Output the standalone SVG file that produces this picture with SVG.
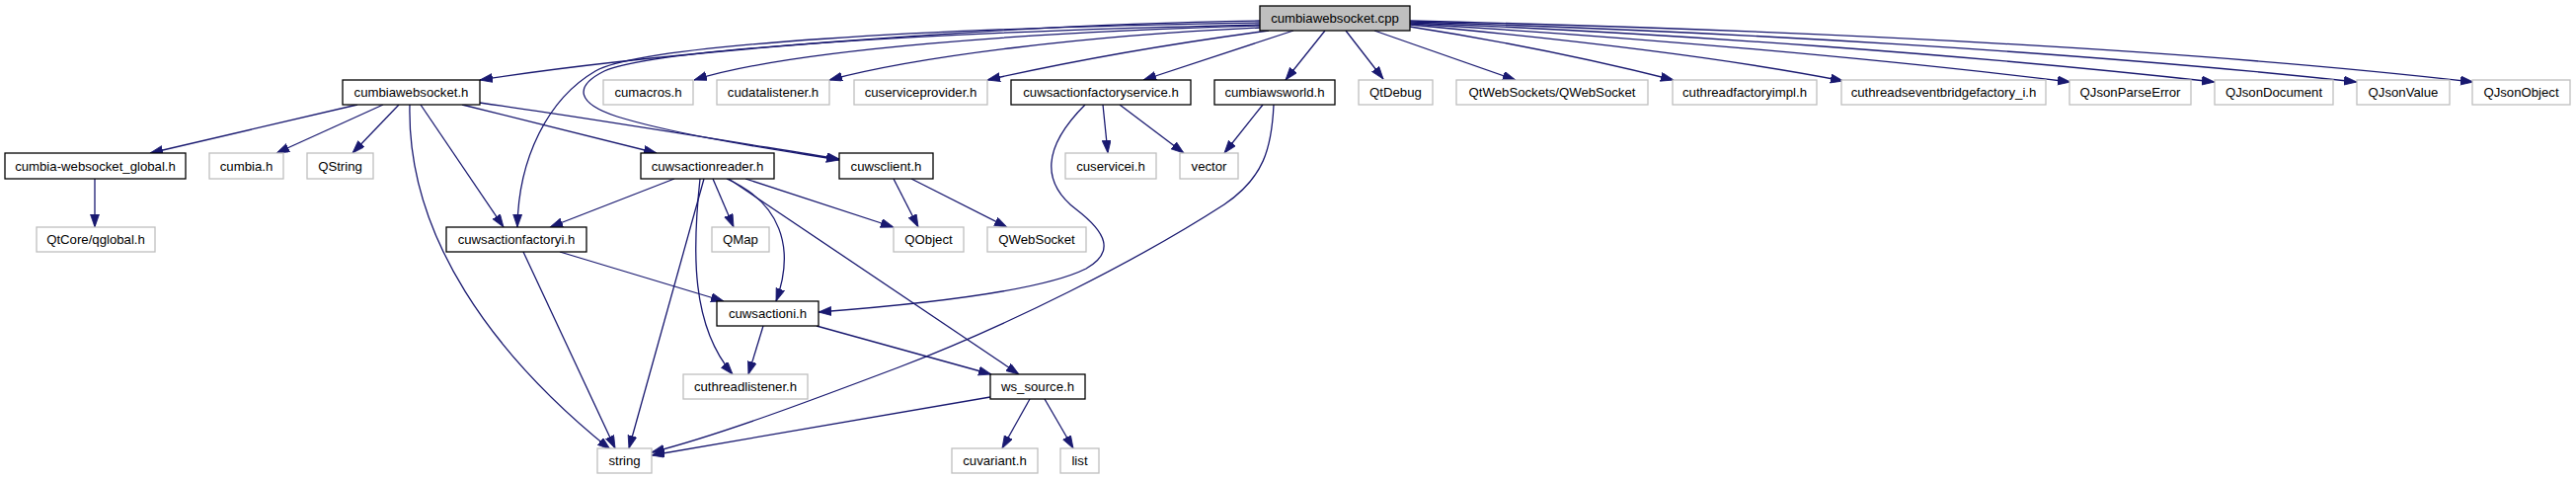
<svg xmlns="http://www.w3.org/2000/svg" width="2609" height="485" viewBox="0 0 2609 485">
<style>
.n rect{fill:#fff;stroke:#000;stroke-width:1.3}
.x rect{fill:#fff;stroke:#bfbfbf;stroke-width:1.3}
.r rect{fill:#bfbfbf;stroke:#000;stroke-width:1.3}
text{font-family:"Liberation Sans",Arial,Helvetica,sans-serif;font-size:13.2px;fill:#000;text-anchor:middle}
#edges path{fill:none;stroke:#191970;stroke-width:1.3;marker-end:url(#a)}
</style>
<defs>
<marker id="a" markerUnits="userSpaceOnUse" markerWidth="14" markerHeight="10" refX="13" refY="4.5" orient="auto" viewBox="0 0 14 10"><path d="M0,0 L13,4.5 L0,9 z" fill="#191970" stroke="#191970" stroke-width="0.8"/></marker>
</defs>
<rect width="2609" height="485" fill="#fff"/>
<g id="edges">
<path d="M1276,21 C1000,25 650,55 486,81"/>
<path d="M1276,23 C950,28 650,45 603,72 C555,100 525,160 524,230"/>
<path d="M1276,25 C950,32 660,50 612,72 C580,88 585,105 625,118 C690,138 790,152 850,162"/>
<path d="M1276,26 C1050,32 800,50 703,81"/>
<path d="M1276,28 C1100,36 930,57 840,81"/>
<path d="M1285,31 C1180,45 1080,63 1000,81"/>
<path d="M1310,31 L1158,81"/>
<path d="M1342,31 L1302,81"/>
<path d="M1363,31 L1401,80"/>
<path d="M1392,31 L1535,81"/>
<path d="M1428,27 C1530,43 1620,62 1695,81"/>
<path d="M1428,25 C1600,41 1760,61 1867,82"/>
<path d="M1428,24 C1650,37 1900,59 2097,83"/>
<path d="M1428,23 C1700,34 2000,56 2243,83"/>
<path d="M1428,22 C1750,32 2100,52 2387,83"/>
<path d="M1428,21 C1800,30 2200,48 2505,83"/>
<path d="M362,106 L152,155"/>
<path d="M388,106 L280,155"/>
<path d="M404,106 L357,155"/>
<path d="M415,106 C412,240 500,360 618,455"/>
<path d="M426,106 L510,230"/>
<path d="M468,106 L665,155"/>
<path d="M486,104 C600,120 750,145 850,161"/>
<path d="M96,181 L96,230"/>
<path d="M683,181 L557,230"/>
<path d="M713,181 L637,454"/>
<path d="M709,181 C701,255 700,330 742,379"/>
<path d="M722,181 L743,230"/>
<path d="M736,181 C790,205 806,250 786,305"/>
<path d="M738,181 L1032,379"/>
<path d="M755,181 L905,230"/>
<path d="M905,181 L930,230"/>
<path d="M923,181 L1020,230"/>
<path d="M1117,106 L1122,155"/>
<path d="M1134,106 L1199,155"/>
<path d="M1099,106 C1055,150 1055,185 1090,212 C1120,235 1130,255 1100,272 C1060,292 960,306 829,316"/>
<path d="M1279,106 L1240,155"/>
<path d="M1290,106 C1288,150 1280,180 1240,207 C1150,265 1020,330 910,372 C820,406 730,440 660,458"/>
<path d="M567,255 L733,305"/>
<path d="M530,255 L623,454"/>
<path d="M773,330 L758,379"/>
<path d="M827,330 L1004,379"/>
<path d="M1003,402 L660,461"/>
<path d="M1043,404 L1015,454"/>
<path d="M1058,404 L1087,454"/>
</g>
<g id="n_cpp" class="r"><rect x="1276" y="6" width="152" height="25"/><text x="1352" y="23.2">cumbiawebsocket.cpp</text></g>
<g id="n_cumbiawebsocket_h" class="n"><rect x="347" y="81" width="139" height="25"/><text x="416.5" y="98.2">cumbiawebsocket.h</text></g>
<g id="n_cumacros" class="x"><rect x="611" y="81" width="91" height="25"/><text x="656.5" y="98.2">cumacros.h</text></g>
<g id="n_cudatalistener" class="x"><rect x="726" y="81" width="114" height="25"/><text x="783" y="98.2">cudatalistener.h</text></g>
<g id="n_cuserviceprovider" class="x"><rect x="865" y="81" width="135" height="25"/><text x="932.5" y="98.2">cuserviceprovider.h</text></g>
<g id="n_cuwsactionfactoryservice" class="n"><rect x="1024" y="81" width="182" height="25"/><text x="1115" y="98.2">cuwsactionfactoryservice.h</text></g>
<g id="n_cumbiawsworld" class="n"><rect x="1230" y="81" width="122" height="25"/><text x="1291" y="98.2">cumbiawsworld.h</text></g>
<g id="n_qtdebug" class="x"><rect x="1376" y="81" width="75" height="25"/><text x="1413.5" y="98.2">QtDebug</text></g>
<g id="n_qtwebsockets" class="x"><rect x="1475" y="81" width="194" height="25"/><text x="1572" y="98.2">QtWebSockets/QWebSocket</text></g>
<g id="n_cuthreadfactoryimpl" class="x"><rect x="1694" y="81" width="146" height="25"/><text x="1767" y="98.2">cuthreadfactoryimpl.h</text></g>
<g id="n_cuthreadseventbridge" class="x"><rect x="1865" y="81" width="207" height="25"/><text x="1968.5" y="98.2">cuthreadseventbridgefactory_i.h</text></g>
<g id="n_qjsonparseerror" class="x"><rect x="2096" y="81" width="123" height="25"/><text x="2157.5" y="98.2">QJsonParseError</text></g>
<g id="n_qjsondocument" class="x"><rect x="2243" y="81" width="120" height="25"/><text x="2303" y="98.2">QJsonDocument</text></g>
<g id="n_qjsonvalue" class="x"><rect x="2387" y="81" width="94" height="25"/><text x="2434" y="98.2">QJsonValue</text></g>
<g id="n_qjsonobject" class="x"><rect x="2504" y="81" width="99" height="25"/><text x="2553.5" y="98.2">QJsonObject</text></g>
<g id="n_global" class="n"><rect x="5" y="155" width="183" height="26"/><text x="96.5" y="172.7">cumbia-websocket_global.h</text></g>
<g id="n_cumbia" class="x"><rect x="212" y="155" width="75" height="26"/><text x="249.5" y="172.7">cumbia.h</text></g>
<g id="n_qstring" class="x"><rect x="311" y="155" width="67" height="26"/><text x="344.5" y="172.7">QString</text></g>
<g id="n_cuwsactionreader" class="n"><rect x="649" y="155" width="135" height="26"/><text x="716.5" y="172.7">cuwsactionreader.h</text></g>
<g id="n_cuwsclient" class="n"><rect x="850" y="155" width="95" height="26"/><text x="897.5" y="172.7">cuwsclient.h</text></g>
<g id="n_cuservicei" class="x"><rect x="1079" y="155" width="92" height="26"/><text x="1125" y="172.7">cuservicei.h</text></g>
<g id="n_vector" class="x"><rect x="1195" y="155" width="59" height="26"/><text x="1224.5" y="172.7">vector</text></g>
<g id="n_qglobal" class="x"><rect x="37" y="230" width="120" height="25"/><text x="97" y="247.2">QtCore/qglobal.h</text></g>
<g id="n_cuwsactionfactoryi" class="n"><rect x="452" y="230" width="142" height="25"/><text x="523" y="247.2">cuwsactionfactoryi.h</text></g>
<g id="n_qmap" class="x"><rect x="721" y="230" width="58" height="25"/><text x="750" y="247.2">QMap</text></g>
<g id="n_qobject" class="x"><rect x="905" y="230" width="71" height="25"/><text x="940.5" y="247.2">QObject</text></g>
<g id="n_qwebsocket" class="x"><rect x="1000" y="230" width="100" height="25"/><text x="1050" y="247.2">QWebSocket</text></g>
<g id="n_cuwsactioni" class="n"><rect x="726" y="305" width="103" height="25"/><text x="777.5" y="322.2">cuwsactioni.h</text></g>
<g id="n_cuthreadlistener" class="x"><rect x="692" y="379" width="126" height="25"/><text x="755" y="396.2">cuthreadlistener.h</text></g>
<g id="n_ws_source" class="n"><rect x="1003" y="379" width="96" height="25"/><text x="1051" y="396.2">ws_source.h</text></g>
<g id="n_string" class="x"><rect x="605" y="454" width="55" height="25"/><text x="632.5" y="471.2">string</text></g>
<g id="n_cuvariant" class="x"><rect x="964" y="454" width="87" height="25"/><text x="1007.5" y="471.2">cuvariant.h</text></g>
<g id="n_list" class="x"><rect x="1074" y="454" width="39" height="25"/><text x="1093.5" y="471.2">list</text></g>
</svg>
